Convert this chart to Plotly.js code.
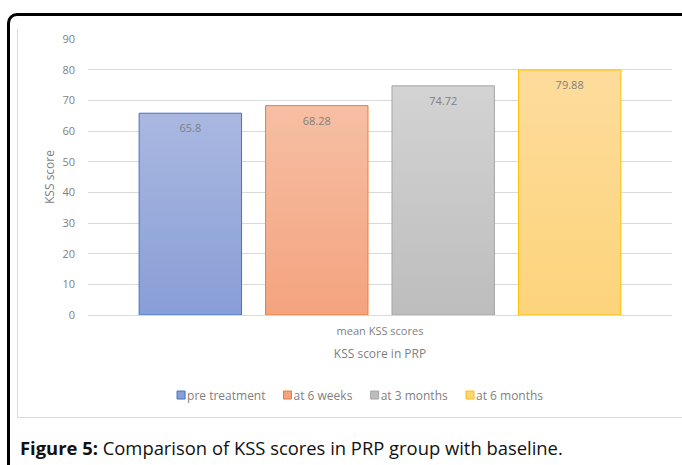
<!DOCTYPE html>
<html>
<head>
<meta charset="utf-8">
<script src="https://cdn.plot.ly/plotly-3.0.1.min.js"></script>
<style>
  html, body { margin: 0; padding: 0; background: #fff; overflow: hidden; }
  body { width: 682px; height: 465px; position: relative; }
  #outer { position: absolute; left: 7px; top: 13px; width: 720px; height: 500px;
           border: 3px solid #000; border-radius: 10px; box-sizing: border-box; }
  #frame { position: absolute; left: 17px; top: 29px; width: 700px; height: 389px;
           border-left: 1px solid #d9d9d9; border-bottom: 1px solid #d9d9d9; box-sizing: border-box; }
  #chart { position: absolute; left: 0; top: 0; width: 682px; height: 465px; }
  #caption { position: absolute; left: 20px; top: 435px; font-family: "Open Sans", "Noto Sans", sans-serif;
             font-size: 18.4px; color: #111; white-space: nowrap; }
</style>
</head>
<body>
<div id="outer"></div>
<div id="frame"></div>
<div id="chart"></div>
<div id="caption"><b>Figure 5:</b> Comparison of KSS scores in PRP group with baseline.</div>
<script>
// KSS scores in the PRP group at each follow-up
const category = ["mean KSS scores"];
const seriesNames = ["pre treatment", "at 6 weeks", "at 3 months", "at 6 months"];
const seriesValues = [65.8, 68.28, 74.72, 79.88];
const yTicks = [0, 10, 20, 30, 40, 50, 60, 70, 80, 90];

// fill colours (top, bottom of gradient) and outline per series
const gradTop = ["#aab8e1", "#f6bfa4", "#d3d3d3", "#fddc9c"];
const gradBottom = ["#889ed6", "#f4a37e", "#bdbdbd", "#fdd47b"];
const outline = ["#4472c4", "#ed7d31", "#a5a5a5", "#ffc000"];

const labelGray = "#7f7f7f";
const fontFam = "'Open Sans', 'Noto Sans', sans-serif";

const traces = seriesNames.map((name, i) => ({
  type: "bar",
  name: name,
  x: category,
  y: [seriesValues[i]],
  text: [String(seriesValues[i])],
  textposition: "inside",
  insidetextanchor: "end",
  textangle: 0,
  textfont: { family: fontFam, size: 11, color: labelGray },
  marker: { color: gradBottom[i], line: { color: outline[i], width: 1 } },
  hoverinfo: "skip"
}));

const layout = {
  width: 682, height: 465,
  margin: { l: 88, r: 10, t: 39, b: 150 },
  paper_bgcolor: "rgba(0,0,0,0)",
  plot_bgcolor: "rgba(0,0,0,0)",
  font: { family: fontFam, size: 11, color: labelGray },
  barmode: "group",
  bargap: 0.134,
  bargroupgap: 0.19,
  showlegend: true,
  legend: {
    orientation: "h", x: 0.459, xanchor: "center", y: -0.29, yanchor: "middle",
    font: { family: fontFam, size: 12, color: labelGray },
    itemwidth: 30, traceorder: "normal"
  },
  xaxis: {
    type: "category",
    showgrid: false, showline: false, zeroline: false, ticks: "",
    tickfont: { family: fontFam, size: 11, color: labelGray },
    ticklabelstandoff: 8,
    title: { text: "KSS score in PRP", font: { family: fontFam, size: 12, color: labelGray }, standoff: 12 }
  },
  yaxis: {
    range: [0, 90],
    tickvals: yTicks,
    showgrid: true, gridcolor: "#d9d9d9", gridwidth: 1,
    zeroline: true, zerolinecolor: "#d9d9d9", zerolinewidth: 1,
    showline: false, ticks: "",
    tickfont: { family: fontFam, size: 11, color: labelGray },
    ticklabelstandoff: 12,
    title: { text: "KSS score", font: { family: fontFam, size: 12, color: labelGray }, standoff: 5 }
  }
};

const ns = "http://www.w3.org/2000/svg";

// vertical gradient fills for the bar rectangles, labels nudged below the bar top
function styleBars(gd) {
  const svg = gd.querySelector("svg.main-svg");
  let defs = svg.querySelector("defs");
  if (!defs) { defs = document.createElementNS(ns, "defs"); svg.prepend(defs); }
  gd.querySelectorAll(".barlayer .trace.bars").forEach((tr, i) => {
    const id = "barGrad" + i;
    const lg = document.createElementNS(ns, "linearGradient");
    lg.setAttribute("id", id);
    lg.setAttribute("x1", "0"); lg.setAttribute("y1", "0");
    lg.setAttribute("x2", "0"); lg.setAttribute("y2", "1");
    [[0, gradTop[i]], [1, gradBottom[i]]].forEach(([off, col]) => {
      const st = document.createElementNS(ns, "stop");
      st.setAttribute("offset", off);
      st.setAttribute("stop-color", col);
      lg.appendChild(st);
    });
    defs.appendChild(lg);
    tr.querySelectorAll(".point path").forEach(p => { p.style.fill = "url(#" + id + ")"; });
    tr.querySelectorAll(".point text").forEach(t => {
      const tf = t.getAttribute("transform") || "";
      t.setAttribute("transform", "translate(0,4) " + tf);
    });
  });
}

// compact legend entries: small swatch right next to its label, entries re-packed around the same centre
function compactLegend(gd) {
  const half = 4, swatchGap = 2, entryGap = 18;
  const items = Array.from(gd.querySelectorAll(".legend .traces"));
  const info = items.map(g => {
    const m = /translate\(([-\d.]+),\s*([-\d.]+)\)/.exec(g.getAttribute("transform") || "");
    const tx = m ? parseFloat(m[1]) : 0, ty = m ? parseFloat(m[2]) : 0;
    const sym = g.querySelector(".legendpoints path");
    const txt = g.querySelector(".legendtext");
    const sb = sym.getBBox();
    const symM = /translate\(([-\d.]+)/.exec(sym.getAttribute("transform") || "");
    const symTx = symM ? parseFloat(symM[1]) : 0;
    const tb = txt.getBBox();
    return { g, sym, tx, ty, origLeft: tx + sb.x + symTx, tb };
  });
  const origL = Math.min(...info.map(d => d.origLeft));
  const origR = Math.max(...info.map(d => d.tx + d.tb.x + d.tb.width));
  const centre = (origL + origR) / 2;
  let cursor = 0;
  const placed = info.map(d => {
    const sx = d.tb.x - swatchGap - half;          // swatch centre in entry coordinates
    const left = sx - half, right = d.tb.x + d.tb.width;
    const off = cursor - left;
    cursor += (right - left) + entryGap;
    return { d, sx, off };
  });
  const total = cursor - entryGap;
  placed.forEach(({ d, sx, off }) => {
    d.sym.setAttribute("d", "M4,4H-4V-4H4Z");
    d.sym.setAttribute("transform", "translate(" + sx + ",0)");
    d.g.setAttribute("transform", "translate(" + (centre - total / 2 + off) + "," + d.ty + ")");
  });
}

Plotly.newPlot("chart", traces, layout, { staticPlot: true }).then(gd => { styleBars(gd); compactLegend(gd); });
</script>
</body>
</html>
